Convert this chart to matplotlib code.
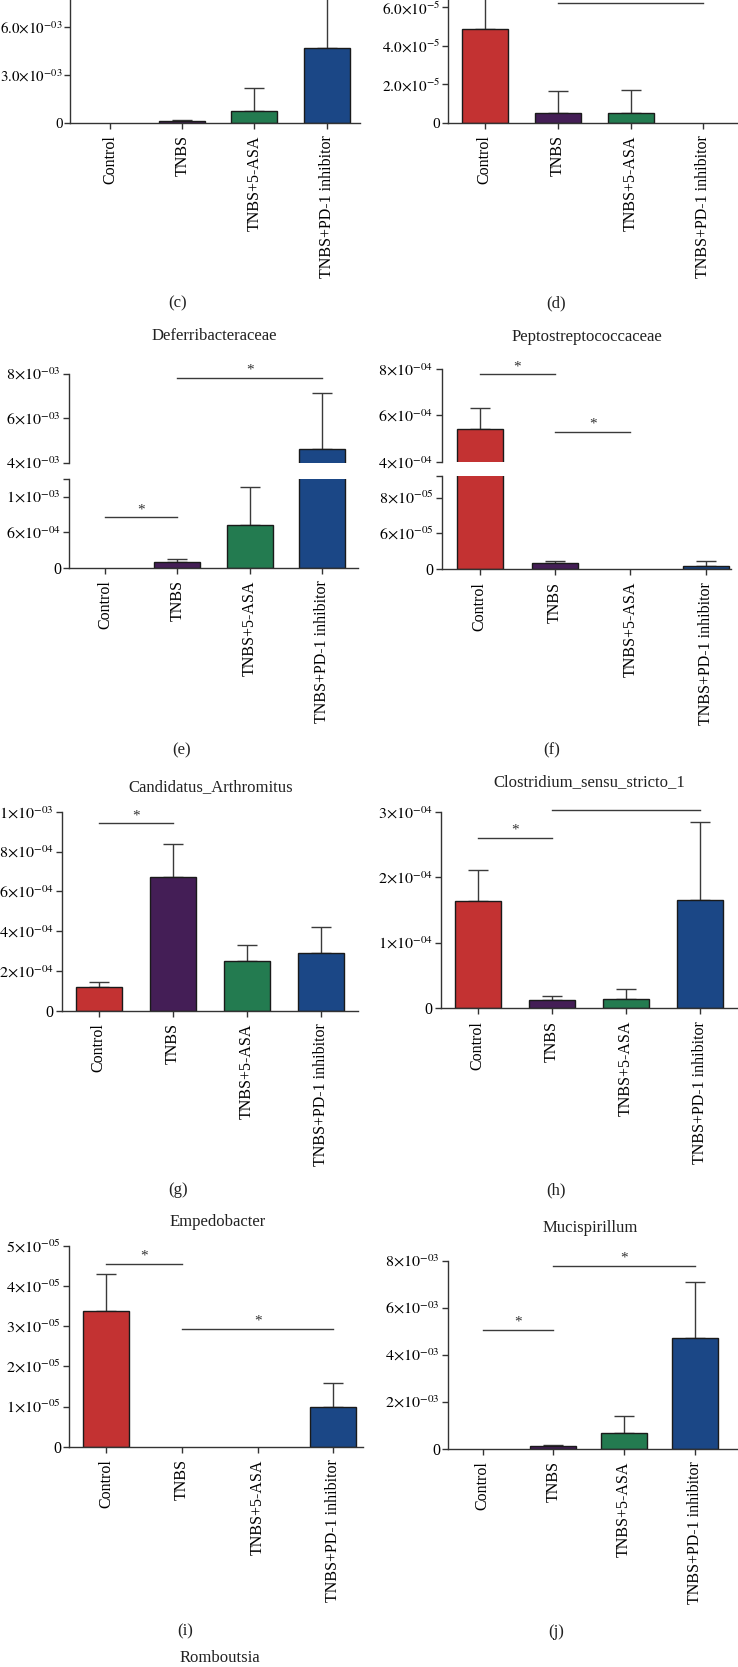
import matplotlib
matplotlib.use("Agg")
import matplotlib.pyplot as plt
import numpy as np

plt.rcParams["font.family"] = ["Liberation Serif", "DejaVu Serif"]
plt.rcParams["mathtext.fontset"] = "stix"

W, H = 738, 1667

groups = ["Control", "TNBS", "TNBS+5-ASA", "TNBS+PD-1 inhibitor"]
colors = ["#c33232", "#441e56", "#237b50", "#1b4786"]

# bar means and top of the SEM whisker
c_mean = [0, 1.0e-4, 7.4e-4, 4.68e-3]
c_top = [0, 1.8e-4, 2.2e-3, 8.4e-3]
d_mean = [4.87e-5, 0.49e-5, 0.5e-5, 0]
d_top = [7.2e-5, 1.65e-5, 1.70e-5, 0]
e_mean = [0, 1.0e-4, 7.2e-4, 4.63e-3]
e_top = [0, 1.4e-4, 1.36e-3, 7.12e-3]
f_mean = [5.41e-4, 6.7e-6, 0, 4.1e-6]
f_top = [6.34e-4, 9.7e-6, 0, 9.7e-6]
g_mean = [1.19e-4, 6.72e-4, 2.5e-4, 2.92e-4]
g_top = [1.46e-4, 8.41e-4, 3.32e-4, 4.23e-4]
h_mean = [1.645e-4, 1.22e-5, 1.38e-5, 1.66e-4]
h_top = [2.12e-4, 1.93e-5, 2.95e-5, 2.84e-4]
i_mean = [3.38e-5, 0, 0, 0.99e-5]
i_top = [4.29e-5, 0, 0, 1.58e-5]
j_mean = [0, 1.1e-4, 0.68e-3, 4.70e-3]
j_top = [0, 1.7e-4, 1.38e-3, 7.1e-3]

# significance bars: (from group, to group, height, segment index, show star)
d_sig = [(1, 3, 6.2e-5, 0, False)]  # star is above the crop
e_sig = [(1, 3, 7.8e-3, 0, True), (0, 1, 8.5e-4, 1, True)]
f_sig = [(0, 1, 7.77e-4, 0, True), (1, 2, 5.29e-4, 0, True)]
g_sig = [(0, 1, 9.43e-4, 0, True)]
h_sig = [(0, 1, 2.6e-4, 0, True), (1, 3, 3.03e-4, 0, True)]
i_sig = [(0, 1, 4.56e-5, 0, True), (1, 3, 2.93e-5, 0, True)]
j_sig = [(0, 1, 5.05e-3, 0, True), (1, 3, 7.79e-3, 0, True)]


def sci(m, e):
    return r"$%s{\times}10^{%s}$" % (m, e)


def px_box(left, top, right, bottom):
    return [left / W, 1 - bottom / H, (right - left) / W, (bottom - top) / H]


def draw_panel(fig, left, right, c0, step, segs, mean, top, sigs, ysize=11.5, ypad=2):
    mean = np.array(mean)
    err = np.array(top) - mean
    x = np.arange(len(groups))
    axes = []
    for k, (ylo, yhi, ptop, pbot, ticks, labels) in enumerate(segs):
        ax = fig.add_axes(px_box(left, ptop, right, pbot))
        ax.bar(x, mean, width=46 / step, color=colors, edgecolor="#1a1a1a",
               linewidth=[1.0 if v > 0 else 0 for v in mean], zorder=2)
        m = err > 0
        ax.errorbar(x[m], mean[m], yerr=[np.zeros(m.sum()), err[m]], fmt="none",
                    ecolor="#3a3a3a", elinewidth=1.0, capsize=7, capthick=1.0, zorder=1)
        ax.set_xlim((left - c0) / step, (right - c0) / step)
        ax.set_ylim(ylo, yhi)
        for s in ["top", "right"]:
            ax.spines[s].set_visible(False)
        for s in ["left", "bottom"]:
            ax.spines[s].set_color("#333333")
            ax.spines[s].set_linewidth(1.0)
        ax.set_yticks(ticks)
        ax.set_yticklabels(labels)
        ax.tick_params(axis="y", length=4, width=1.0, pad=ypad, labelsize=ysize, color="#333333")
        if k == len(segs) - 1:
            ax.set_xticks(x)
            ax.set_xticklabels(groups, rotation=90)
            ax.tick_params(axis="x", length=4, width=1.0, pad=5, labelsize=11.5, color="#333333")
        else:
            ax.spines["bottom"].set_visible(False)
            ax.set_xticks([])
        ax.patch.set_alpha(0)
        axes.append(ax)
    for a, b, y, k, star in sigs:
        ax = axes[k]
        ax.plot([a, b], [y, y], color="#3a3a3a", lw=1.0, clip_on=False)
        if star:
            ax.annotate("*", ((a + b) / 2, y), xytext=(0, 3), textcoords="offset points",
                        ha="center", va="baseline", fontsize=11, color="#333333")
    return axes


fig = plt.figure(figsize=(W / 100, H / 100), dpi=100)

draw_panel(fig, 70, 360, 110, 72.2,
           [(0, 9e-3, -20.4, 122.7, [0, 3e-3, 6e-3],
             ["0", sci("3.0", "-03"), sci("6.0", "-03")])],
           c_mean, c_top, [], ysize=10.8, ypad=1.2)
draw_panel(fig, 448, 738, 484.7, 72.9,
           [(0, 8e-5, -31.3, 122.7, [0, 2e-5, 4e-5, 6e-5],
             ["0", sci("2.0", "-5"), sci("4.0", "-5"), sci("6.0", "-5")])],
           d_mean, d_top, d_sig, ysize=11, ypad=1.5)
draw_panel(fig, 69.3, 357.7, 105, 72.3,
           [(4e-3, 8e-3, 373.7, 462.7, [4e-3, 6e-3, 8e-3],
             [sci("4", "-03"), sci("6", "-03"), sci("8", "-03")]),
            (0, 1.5e-3, 479, 567.7, [0, 6e-4, 1.2e-3, 1.5e-3],
             ["0", sci("6", "-04"), sci("1", "-03"), ""])],
           e_mean, e_top, e_sig)
draw_panel(fig, 441.7, 730.7, 479.7, 75.3,
           [(4e-4, 8e-4, 369, 462, [4e-4, 6e-4, 8e-4],
             [sci("4", "-04"), sci("6", "-04"), sci("8", "-04")]),
            (0, 1.04e-4, 476, 569.3, [0, 4e-5, 8e-5, 1.04e-4],
             ["0", sci("6", "-05"), sci("8", "-05"), ""])],
           f_mean, f_top, f_sig)
draw_panel(fig, 62, 358.3, 98.7, 74,
           [(0, 1e-3, 812, 1010.7, [0, 2e-4, 4e-4, 6e-4, 8e-4, 1e-3],
             ["0", sci("2", "-04"), sci("4", "-04"), sci("6", "-04"), sci("8", "-04"), sci("1", "-03")])],
           g_mean, g_top, g_sig)
draw_panel(fig, 441, 737, 477.7, 74.1,
           [(0, 3e-4, 812, 1008.3, [0, 1e-4, 2e-4, 3e-4],
             ["0", sci("1", "-04"), sci("2", "-04"), sci("3", "-04")])],
           h_mean, h_top, h_sig)
draw_panel(fig, 69.3, 363, 106, 75.8,
           [(0, 5e-5, 1246, 1446.7, [0, 1e-5, 2e-5, 3e-5, 4e-5, 5e-5],
             ["0", sci("1", "-05"), sci("2", "-05"), sci("3", "-05"), sci("4", "-05"), sci("5", "-05")])],
           i_mean, i_top, i_sig)
draw_panel(fig, 448.3, 738, 482.7, 70.7,
           [(0, 8e-3, 1260.7, 1448.7, [0, 2e-3, 4e-3, 6e-3, 8e-3],
             ["0", sci("2", "-03"), sci("4", "-03"), sci("6", "-03"), sci("8", "-03")])],
           j_mean, j_top, j_sig)

titles = [("Deferribacteraceae", 213.8, 336), ("Peptostreptococcaceae", 587, 337),
          ("Candidatus_Arthromitus", 210.7, 786.7), ("Clostridium_sensu_stricto_1", 589, 781.7),
          ("Empedobacter", 217.3, 1221.7), ("Mucispirillum", 590.7, 1228.3),
          ("Romboutsia", 220, 1658)]
for t, x, y in titles:
    fig.text(x / W, 1 - y / H, t, ha="center", va="center", fontsize=12, color="#222222")

panel_tags = [("(c)", 178, 303), ("(d)", 555.7, 303), ("(e)", 181.7, 750), ("(f)", 552, 750),
              ("(g)", 177.7, 1190), ("(h)", 555.7, 1190), ("(i)", 185, 1631.7), ("(j)", 555.7, 1631.7)]
for t, x, y in panel_tags:
    fig.text(x / W, 1 - y / H, t, ha="center", va="center", fontsize=12, color="#222222")

fig.savefig("out.png", dpi=100)
